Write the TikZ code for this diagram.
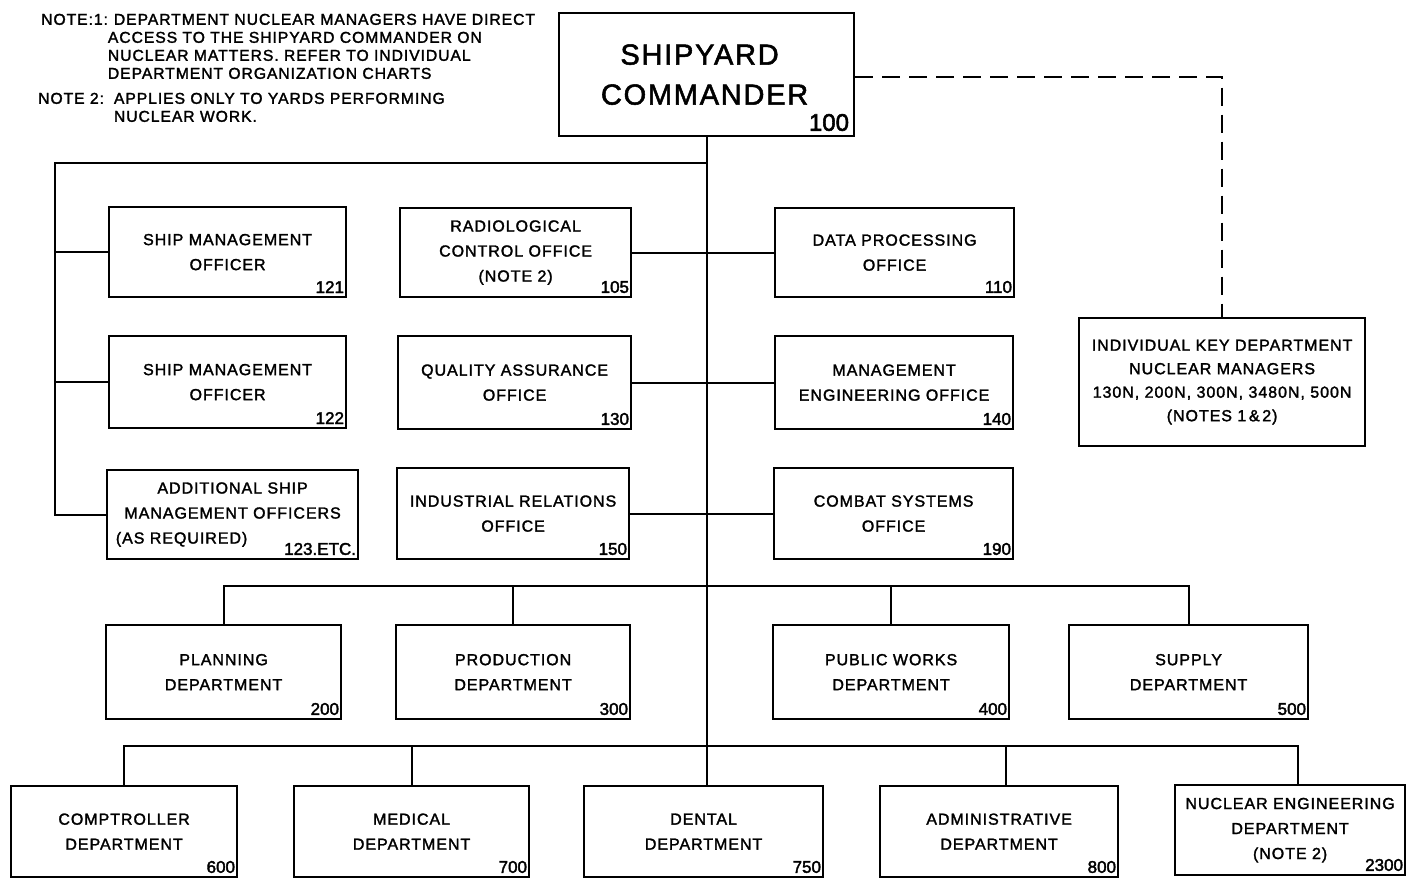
\documentclass[tikz,border=0pt]{standalone}
\usepackage{fontspec}
\newfontfamily\lett{Liberation Sans}[FakeBold=1.8, LetterSpace=6]
\newfontfamily\lettnum{Liberation Sans}[FakeBold=2.2]
\usetikzlibrary{calc}
\tikzset{
  box/.style={draw, line width=2.2pt, anchor=north west, inner sep=0pt,
    align=center, font=\lett\fontsize{16}{25}\selectfont},
  num/.style={anchor=south east, inner sep=0pt, font=\lettnum\fontsize{17}{17}\selectfont},
  link/.style={line width=2.2pt},
  notetext/.style={anchor=north west, inner sep=0pt, font=\lett\fontsize{15.7}{18}\selectfont},
}
% office box: name, left, top, right, bottom, title, code number
\newcommand\ob[7]{%
  \node[box, minimum width={#4pt-#2pt}, minimum height={#5pt-#3pt}] (#1) at (#2,#3) {#6};
  \node[num] (#1n) at ([xshift=-3pt,yshift=5pt]#1.south east) {#7};
}
\begin{document}
\begin{tikzpicture}[x=1pt,y=-1pt]
\useasboundingbox[fill=white] (0,0) rectangle (1416,879);

% notes
\node[notetext] (note1) at (41,12) {%
  \begin{tabular}{@{}l@{\hspace{0pt}}l@{}}
  NOTE:1: & \hspace{6pt}DEPARTMENT NUCLEAR MANAGERS HAVE DIRECT\\
          & ACCESS TO THE SHIPYARD COMMANDER ON\\
          & NUCLEAR MATTERS. REFER TO INDIVIDUAL\\
          & DEPARTMENT ORGANIZATION CHARTS
  \end{tabular}};
\node[notetext] (note2) at (38,91) {%
  \begin{tabular}{@{}l@{\hspace{10pt}}l@{}}
  NOTE 2: & APPLIES ONLY TO YARDS PERFORMING\\
          & NUCLEAR WORK.
  \end{tabular}};

% commander
\node[box, minimum width=295pt, minimum height=123pt,
  font=\lett\fontsize{29}{40}\selectfont] (cmd) at (558,12)
  {SHIPYARD\hspace*{14pt}\\COMMANDER\hspace*{4pt}};
\node[num, font=\lettnum\fontsize{24}{24}\selectfont] (cmdn)
  at ([xshift=-6pt,yshift=6pt]cmd.south east) {100};

% staff offices
\ob{n121}{108}{206}{345}{296}{SHIP MANAGEMENT\\OFFICER}{121}
\ob{n105}{399}{207}{630}{296}{RADIOLOGICAL\\CONTROL OFFICE\\(NOTE 2)}{105}
\ob{n110}{774}{207}{1013}{296}{DATA PROCESSING\\OFFICE}{110}
\ob{n122}{108}{335}{345}{427}{SHIP MANAGEMENT\\OFFICER}{122}
\ob{n130}{397}{335}{630}{428}{QUALITY ASSURANCE\\OFFICE}{130}
\ob{n140}{774}{335}{1012}{428}{MANAGEMENT\\ENGINEERING OFFICE}{140}
\ob{n123}{106}{469}{357}{558}{ADDITIONAL SHIP\\MANAGEMENT OFFICERS\\(AS REQUIRED)\hspace*{102pt}}{123.ETC.}
\ob{n150}{396}{467}{628}{558}{INDUSTRIAL RELATIONS\\OFFICE}{150}
\ob{n190}{773}{467}{1012}{558}{COMBAT SYSTEMS\\OFFICE}{190}

% nuclear managers
\node[box, minimum width=286pt, minimum height=128pt, font=\lett\fontsize{16}{23.5}\selectfont]
  (key) at (1078,317) {INDIVIDUAL KEY DEPARTMENT\\NUCLEAR MANAGERS\\130N, 200N, 300N, 3480N, 500N\\(NOTES 1\,\&\,2)};

% departments
\ob{n200}{105}{624}{340}{718}{PLANNING\\DEPARTMENT}{200}
\ob{n300}{395}{624}{629}{718}{PRODUCTION\\DEPARTMENT}{300}
\ob{n400}{772}{624}{1008}{718}{PUBLIC WORKS\\DEPARTMENT}{400}
\ob{n500}{1068}{624}{1307}{718}{SUPPLY\\DEPARTMENT}{500}
\ob{n600}{10}{785}{236}{876}{COMPTROLLER\\DEPARTMENT}{600}
\ob{n700}{293}{785}{528}{876}{MEDICAL\\DEPARTMENT}{700}
\ob{n750}{583}{785}{822}{876}{DENTAL\\DEPARTMENT}{750}
\ob{n800}{879}{785}{1117}{876}{ADMINISTRATIVE\\DEPARTMENT}{800}
\ob{n2300}{1174}{784}{1404}{874}{NUCLEAR ENGINEERING\\DEPARTMENT\\(NOTE 2)}{2300}

% connectors
\coordinate (bl) at (55,163);
\coordinate (b4) at (0,586);
\coordinate (b5) at (0,746);
\draw[link] (cmd.south) -- (cmd.south |- n750.north);
\draw[link] (cmd.south |- bl) -- (bl) |- (n123.west);
\draw[link] (bl |- n121.west) -- (n121.west);
\draw[link] (bl |- n122.west) -- (n122.west);
\draw[link] (n105.east) -- (n110.west);
\draw[link] (n130.east) -- (n140.west);
\draw[link] (n150.east) -- (n190.west);
\draw[link] (n200.north) -- (n200.north |- b4) -- (n500.north |- b4) -- (n500.north);
\draw[link] (n300.north) -- (n300.north |- b4);
\draw[link] (n400.north) -- (n400.north |- b4);
\draw[link] (n600.north) -- (n600.north |- b5) -- ([xshift=8pt]n2300.north |- b5) -- ([xshift=8pt]n2300.north);
\draw[link] (n700.north) -- (n700.north |- b5);
\draw[link] ([xshift=7pt]n800.north) -- ([xshift=7pt]n800.north |- b5);
\draw[link, dashed, dash pattern=on 18pt off 9pt] ([yshift=-2pt]cmd.east) -| (key.north);
\end{tikzpicture}
\end{document}
